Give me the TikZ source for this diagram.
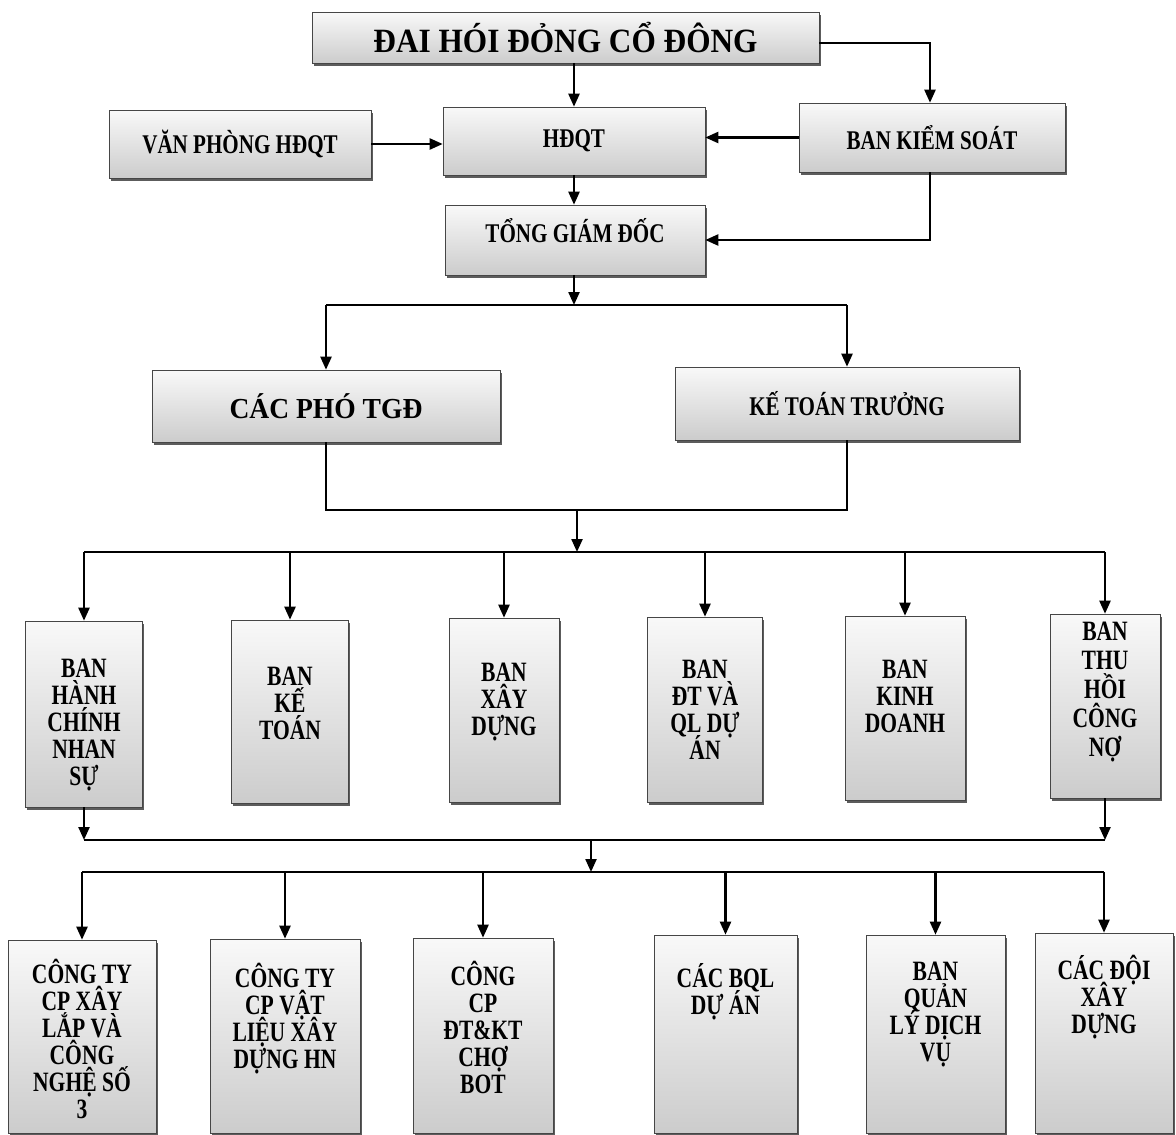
\documentclass[tikz,border=0pt]{standalone}
\usepackage{fontspec}
\setmainfont{Liberation Serif}
\newfontfamily\cf[FakeStretch=0.78]{Liberation Serif}
\newfontfamily\rf[FakeStretch=0.77]{Liberation Serif}
\newfontfamily\tf[FakeStretch=0.92]{Liberation Serif}
\newfontfamily\wf[FakeStretch=0.95]{Liberation Serif}
\newcommand\mystrut{\rule{0pt}{25pt}}
\usetikzlibrary{arrows.meta,shadows}
\lineskiplimit=-50pt\relax
\begin{document}
\begin{tikzpicture}[x=1pt,y=-1pt,
 obox/.style={draw=gray!55!black, line width=0.6pt, top color=gray!5, bottom color=gray!40,
   drop shadow={shadow xshift=1.5pt, shadow yshift=-2.5pt, fill=black!75, opacity=0.85},
   inner sep=0pt, font=\cf\bfseries\fontsize{27}{26}\selectfont},
 lbl/.style={font=\rf\bfseries\fontsize{28}{27}\selectfont, align=center, inner sep=0pt},
 lbw/.style={font=\rf\bfseries\fontsize{28}{29}\selectfont, align=center, inner sep=0pt},
 conn/.style={line width=2.3pt, black},
 arr/.style={conn, -{Triangle[length=13pt,width=11pt]}},
]
\useasboundingbox (0,0) rectangle (1176,1135);
\fill[white] (0,0) rectangle (1176,1135);

% top level
\node[obox, minimum width=507pt, minimum height=51pt, font=\tf\bfseries\fontsize{34}{34}\selectfont] (dhd) at (565.5,37.5) {ĐAI HÓI ĐỎNG CỔ ĐÔNG};
\node[obox, minimum width=262pt, minimum height=68pt] (vp) at (240,144) {VĂN PHÒNG HĐQT};
\node[obox, minimum width=262pt, minimum height=68pt] (hdqt) at (574,141) {HĐQT};
\node[obox, minimum width=266pt, minimum height=69pt] (bks) at (932,137.5) {BAN KIỂM SOÁT};
\node[obox, minimum width=260pt, minimum height=70pt] (tgd) at (575,240) {};
\node[inner sep=0pt, font=\cf\bfseries\fontsize{27}{26}\selectfont, yshift=9pt] (tgdt) at (tgd.center) {TỔNG GIÁM ĐỐC};
\node[obox, minimum width=348pt, minimum height=72pt, font=\wf\bfseries\fontsize{29}{29}\selectfont] (cpt) at (326,406) {CÁC PHÓ TGĐ};
\node[obox, minimum width=344pt, minimum height=73pt] (ktt) at (847,403.5) {KẾ TOÁN TRƯỞNG};

% row 1
\node[obox, minimum width=117pt, minimum height=186pt] (r1) at (84,714) {};
\node[obox, minimum width=117pt, minimum height=183pt] (r2) at (290,711.5) {};
\node[obox, minimum width=110pt, minimum height=184pt] (r3) at (504,710) {};
\node[obox, minimum width=115pt, minimum height=185pt] (r4) at (705,709.5) {};
\node[obox, minimum width=120pt, minimum height=184pt] (r5) at (905,708) {};
\node[obox, minimum width=110pt, minimum height=184pt] (r6) at (1105,706) {};
\node[lbl, yshift=-11pt] (r1t) at (r1.center) {BAN\\HÀNH\\CHÍNH\\NHAN\\SỰ};
\node[lbl, yshift=8pt] (r2t) at (r2.center) {BAN\\KẾ\\TOÁN};
\node[lbl, yshift=8pt] (r3t) at (r3.center) {BAN\\XÂY\\DỰNG};
\node[lbl, yshift=0pt] (r4t) at (r4.center) {BAN\\ĐT VÀ\\QL DỰ\\ÁN};
\node[lbl, yshift=12pt] (r5t) at (r5.center) {BAN\\KINH\\DOANH};
\node[lbw, yshift=14pt] (r6t) at (r6.center) {BAN\\THU\\HỒI\\CÔNG\\NỢ};

% bottom row
\node[obox, minimum width=148pt, minimum height=193pt] (b1) at (82,1036.5) {};
\node[obox, minimum width=150pt, minimum height=194pt] (b2) at (285,1036) {};
\node[obox, minimum width=140pt, minimum height=195pt] (b3) at (483,1035.5) {};
\node[obox, minimum width=143pt, minimum height=198pt] (b4) at (725.5,1034) {};
\node[obox, minimum width=139pt, minimum height=198pt] (b5) at (935.5,1034) {};
\node[obox, minimum width=138pt, minimum height=200pt] (b6) at (1104,1033) {};
\node[lbl, anchor=north, yshift=-19pt] (b1t) at (b1.north) {\mystrut CÔNG TY\\CP XÂY\\LẮP VÀ\\CÔNG\\NGHỆ SỐ\\3};
\node[lbl, anchor=north, yshift=-24pt] (b2t) at (b2.north) {\mystrut CÔNG TY\\CP VẬT\\LIỆU XÂY\\DỰNG HN};
\node[lbl, anchor=north, yshift=-23pt] (b3t) at (b3.north) {\mystrut CÔNG\\CP\\ĐT\&KT\\CHỢ\\BOT};
\node[lbl, anchor=north, yshift=-28pt] (b4t) at (b4.north) {\mystrut CÁC BQL\\DỰ ÁN};
\node[lbl, anchor=north, yshift=-21pt] (b5t) at (b5.north) {\mystrut BAN\\QUẢN\\LÝ DỊCH\\VỤ};
\node[lbl, anchor=north, yshift=-22pt] (b6t) at (b6.north) {\mystrut CÁC ĐỘI\\XÂY\\DỰNG};

% connectors top
\coordinate (k1) at (930,43);
\draw[arr] (dhd.east |- k1) -- (k1) -- (k1 |- bks.north);
\draw[arr] (hdqt.north |- dhd.south) -- (hdqt.north);
\draw[arr] (vp.east) -- (hdqt.west |- vp.east);
\draw[arr] (bks.west) -- (hdqt.east |- bks.west);
\draw[arr] (hdqt.south) -- (hdqt.south |- tgd.north);
\draw[arr] (k1 |- bks.south) |- (tgd.east);

\coordinate (j1) at (574,305);
\draw[arr] (hdqt.south |- tgd.south) -- (j1);
\draw[conn] (cpt.north |- j1) -- (ktt.north |- j1);
\draw[arr] (cpt.north |- j1) -- (cpt.north);
\draw[arr] (ktt.north |- j1) -- (ktt.north);

\coordinate (j2) at (577,510);
\draw[conn] (cpt.south) -- (cpt.south |- j2) -- (ktt.south |- j2) -- (ktt.south);
\coordinate (bus1) at (577,552);
\draw[arr] (j2) -- (bus1);
\draw[conn] (r1.north |- bus1) -- (r6.north |- bus1);
\foreach \r in {r1,r2,r3,r4,r5,r6}{\draw[arr] (\r.north |- bus1) -- (\r.north);}

\coordinate (bus2) at (591,840);
\draw[arr] (r1.south) -- (r1.south |- bus2);
\draw[arr] (r6.south) -- (r6.south |- bus2);
\draw[conn] (r1.south |- bus2) -- (r6.south |- bus2);
\coordinate (bus3) at (591,872);
\draw[arr] (bus2) -- (bus3);
\draw[conn] (b1.north |- bus3) -- (b6.north |- bus3);
\foreach \b in {b1,b2,b3,b4,b5,b6}{\draw[arr] (\b.north |- bus3) -- (\b.north);}
\end{tikzpicture}
\end{document}
